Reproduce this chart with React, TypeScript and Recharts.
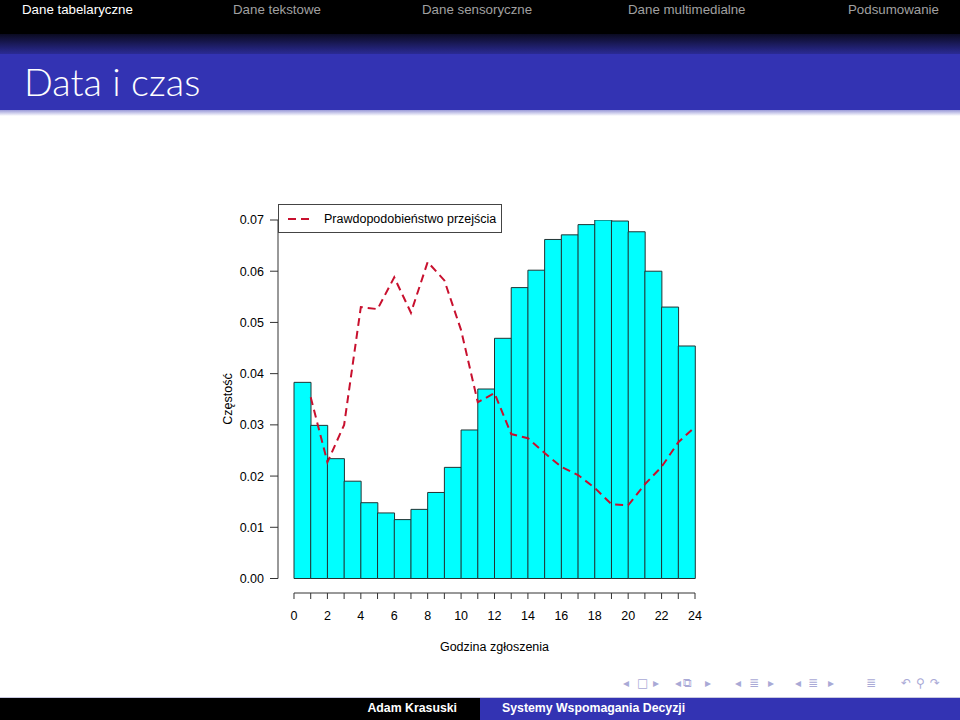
import React from 'react';
import { ComposedChart, Bar, Line, XAxis, YAxis, Legend, ReferenceLine, Label } from 'recharts';

// ---- data ----
const binLabels = ['0', '1', '2', '3', '4', '5', '6', '7', '8', '9', '10', '11', '12', '13', '14', '15', '16', '17', '18', '19', '20', '21', '22', '23'];
const frequency = [0.0383, 0.0299, 0.0234, 0.0190, 0.0148, 0.0128, 0.0115, 0.0135, 0.0168, 0.0217, 0.0290, 0.0370, 0.0469, 0.0568, 0.0602, 0.0662, 0.0671, 0.0691, 0.0700, 0.0698, 0.0677, 0.0600, 0.0530, 0.0454];
const curveHours = [1, 2, 3, 4, 5, 6, 7, 8, 9, 10, 11, 12, 13, 14, 15, 16, 17, 18, 19, 20, 21, 22, 23, 24];
const transitionProb = [0.0354, 0.0227, 0.0300, 0.0530, 0.0526, 0.0588, 0.0519, 0.0618, 0.0582, 0.0485, 0.0344, 0.0362, 0.0282, 0.0274, 0.0245, 0.0218, 0.0202, 0.0177, 0.0145, 0.0143, 0.0184, 0.0218, 0.0266, 0.0296];
const xTicks = [0, 1, 2, 3, 4, 5, 6, 7, 8, 9, 10, 11, 12, 13, 14, 15, 16, 17, 18, 19, 20, 21, 22, 23, 24];
const yTicks = [0, 0.01, 0.02, 0.03, 0.04, 0.05, 0.06, 0.07];
const X_DOMAIN: [number, number] = [-0.9576, 24];
const Y_DOMAIN: [number, number] = [-0.00283, 0.07];

const navSections = ['Dane tabelaryczne', 'Dane tekstowe', 'Dane sensoryczne', 'Dane multimedialne', 'Podsumowanie'];
const navLeft = [22, 233, 422, 628, 848];

const navSymbols = [
  { ch: '◂', x: 623 }, { ch: '□', x: 637 }, { ch: '▸', x: 653 },
  { ch: '◂', x: 675 }, { ch: '⧉', x: 683 }, { ch: '▸', x: 705 },
  { ch: '◂', x: 735 }, { ch: '≣', x: 749 }, { ch: '▸', x: 768 },
  { ch: '◂', x: 795 }, { ch: '≣', x: 808 }, { ch: '▸', x: 828 },
  { ch: '≣', x: 866 }, { ch: '↶', x: 901 }, { ch: '⚲', x: 916 }, { ch: '↷', x: 930 },
];

const barData = binLabels.map((bin, i) => ({ bin, freq: frequency[i] }));
const lineData = curveHours.map((x, i) => ({ x, prob: transitionProb[i] }));

const FONT = '"Liberation Sans", Arial, Helvetica, sans-serif';
const LINE_COLOR = '#c8102e';

const LegendBox = (props: any) => {
  const items = (props.payload || []).filter((p: any) => p.dataKey === 'prob');
  return (
    <div style={{ border: '1px solid #444', background: '#fff', height: 29, boxSizing: 'border-box', display: 'flex', alignItems: 'center', fontFamily: FONT, fontSize: 12.5, color: '#000' }}>
      {items.map((it: any) => (
        <React.Fragment key={it.value}>
          <svg width={45} height={10} style={{ display: 'block' }}>
            <line x1={9} x2={30} y1={5} y2={5} stroke={it.color} strokeWidth={2} strokeDasharray="8 5" />
          </svg>
          <span>{it.value}</span>
        </React.Fragment>
      ))}
    </div>
  );
};

const YTitle = (props: any) => {
  const vb = props.viewBox;
  const cx = vb.x + vb.width / 2;
  const cy = vb.y + (vb.height - 15) / 2;
  return (
    <text x={cx} y={cy} transform={`rotate(-90, ${cx}, ${cy})`} textAnchor="middle" dominantBaseline="central" fontFamily={FONT} fontSize={12.5} fill="#000">
      Częstość
    </text>
  );
};

const XTitle = (props: any) => {
  const vb = props.viewBox;
  const cx = vb.x + 16 + (vb.width - 16) / 2;
  const cy = vb.y + 58;
  return (
    <text x={cx} y={cy} textAnchor="middle" fontFamily={FONT} fontSize={12.5} fill="#000">
      Godzina zgłoszenia
    </text>
  );
};

export default function App() {
  return (
    <div style={{ position: 'absolute', left: 0, top: 0, width: 960, height: 720, background: '#fff', overflow: 'hidden' }}>
      <div style={{ position: 'absolute', left: 0, top: 0 }}>
        <ComposedChart width={960} height={720} data={barData} barCategoryGap={0} barGap={0} margin={{ top: 220, right: 265, bottom: 67, left: 178 }}>
          <XAxis xAxisId="bins" dataKey="bin" type="category" orientation="top" hide height={0} padding={{ left: 16, right: 0 }} />
          <XAxis
            xAxisId="hours"
            dataKey="x"
            type="number"
            domain={X_DOMAIN}
            allowDataOverflow
            ticks={xTicks}
            interval={0}
            tickFormatter={(v: number) => (v % 2 === 0 ? String(v) : '')}
            axisLine={false}
            tickLine={{ stroke: '#333', strokeWidth: 1 }}
            tickSize={6}
            tickMargin={12}
            height={60}
            tick={{ fill: '#000', fontFamily: FONT, fontSize: 12.5 }}
          >
            <Label content={<XTitle />} />
          </XAxis>
          <YAxis
            type="number"
            domain={Y_DOMAIN}
            allowDataOverflow
            ticks={yTicks}
            interval={0}
            tickFormatter={(v: number) => v.toFixed(2)}
            axisLine={false}
            tickLine={{ stroke: '#333', strokeWidth: 1 }}
            tickSize={8}
            tickMargin={6}
            width={100}
            tick={{ fill: '#000', fontFamily: FONT, fontSize: 12.5 }}
          >
            <Label content={<YTitle />} />
          </YAxis>
          <ReferenceLine xAxisId="hours" segment={[{ x: X_DOMAIN[0], y: 0 }, { x: X_DOMAIN[0], y: 0.07 }]} stroke="#333" strokeWidth={1} ifOverflow="visible" />
          <ReferenceLine xAxisId="hours" segment={[{ x: 0, y: Y_DOMAIN[0] }, { x: 24, y: Y_DOMAIN[0] }]} stroke="#333" strokeWidth={1} ifOverflow="visible" />
          <Bar xAxisId="bins" dataKey="freq" name="Częstość" fill="#00ffff" stroke="#233" strokeWidth={1} isAnimationActive={false} legendType="none" />
          <Line xAxisId="hours" data={lineData} dataKey="prob" name="Prawdopodobieństwo przejścia" type="linear" stroke={LINE_COLOR} strokeWidth={2} strokeDasharray="8 5" dot={false} activeDot={false} isAnimationActive={false} />
          <Legend
            layout="horizontal"
            verticalAlign="middle"
            align="center"
            content={<LegendBox />}
            wrapperStyle={{ left: 278, top: 204, width: 224, height: 29 }}
          />
        </ComposedChart>
      </div>

      {/* header */}
      <div style={{ position: 'absolute', left: 0, top: 0, width: 960, height: 34, background: '#000' }} />
      {navSections.map((s, i) => (
        <div key={s} style={{ position: 'absolute', left: navLeft[i], top: 2, fontFamily: FONT, fontSize: 13.3, color: i === 0 ? '#fff' : '#a0a0a0', whiteSpace: 'nowrap' }}>
          {s}
        </div>
      ))}
      <div style={{ position: 'absolute', left: 0, top: 34, width: 960, height: 20, background: 'linear-gradient(#0a0a20, #2b2b95)' }} />
      <div style={{ position: 'absolute', left: 0, top: 54, width: 960, height: 56, background: '#3333b3' }} />
      <div style={{ position: 'absolute', left: 0, top: 110, width: 960, height: 6, background: 'linear-gradient(#9a9ad8, #ffffff)' }} />
      <div style={{ position: 'absolute', left: 24, top: 58, fontFamily: 'Lato, "Liberation Sans", sans-serif', fontWeight: 300, fontSize: 38, color: '#fff', whiteSpace: 'nowrap' }}>
        Data i czas
      </div>

      {/* navigation symbols */}
      {navSymbols.map((n, i) => (
        <div key={i} style={{ position: 'absolute', left: n.x, top: 674, fontFamily: '"DejaVu Sans", sans-serif', fontSize: 12, color: '#a9a9d6', lineHeight: '18px' }}>
          {n.ch}
        </div>
      ))}

      {/* footer */}
      <div style={{ position: 'absolute', left: 0, top: 697, width: 960, height: 1, background: '#c8c8e0' }} />
      <div style={{ position: 'absolute', left: 0, top: 698, width: 480, height: 22, background: '#000' }} />
      <div style={{ position: 'absolute', left: 480, top: 698, width: 480, height: 22, background: '#3333b3' }} />
      <div style={{ position: 'absolute', right: 960 - 457, top: 701, fontFamily: FONT, fontWeight: 'bold', fontSize: 12.3, color: '#fff', whiteSpace: 'nowrap' }}>
        Adam Krasuski
      </div>
      <div style={{ position: 'absolute', left: 502, top: 701, fontFamily: FONT, fontWeight: 'bold', fontSize: 12.3, color: '#fff', whiteSpace: 'nowrap' }}>
        Systemy Wspomagania Decyzji
      </div>
    </div>
  );
}
